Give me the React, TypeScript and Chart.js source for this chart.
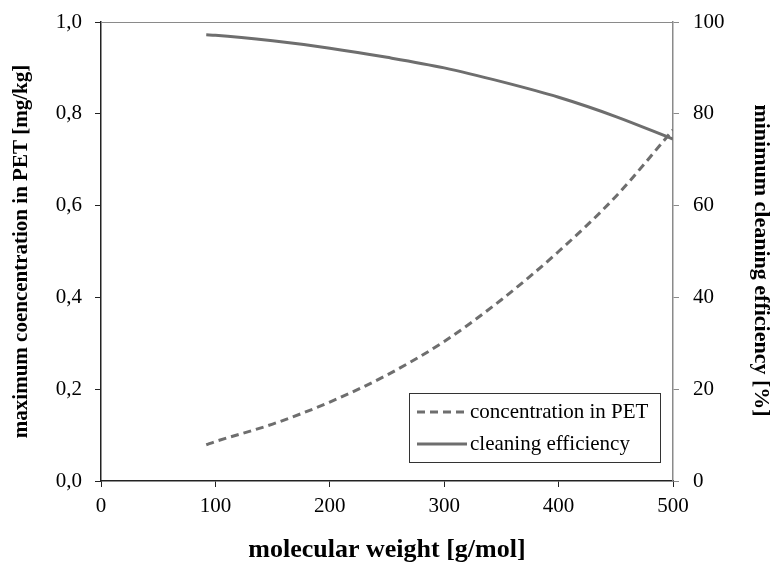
import React, { useEffect, useRef } from "react";
import { Chart, registerables } from "chart.js";
Chart.register(...registerables);

const molecularWeight = [92, 100, 150, 200, 250, 300, 350, 400, 450, 500];
const concentration = [0.079, 0.086, 0.124, 0.172, 0.231, 0.304, 0.395, 0.5, 0.62, 0.765];
const cleaningEfficiency = [97.2, 97.1, 95.9, 94.3, 92.3, 90.0, 87.0, 83.6, 79.4, 74.5];
const seriesLabels = ["concentration in PET", "cleaning efficiency"];
const rightTitle = "minimum cleaning efficiency [%]";

const FONT = "'Liberation Serif', 'Times New Roman', serif";
const LINE = "#6e6e6e";

const frameLegend = {
  id: "frameLegend",
  afterDraw(chart: any) {
    const { ctx, chartArea } = chart;
    ctx.save();
    // top border
    ctx.strokeStyle = "#8a8a8a";
    ctx.lineWidth = 1;
    ctx.beginPath();
    ctx.moveTo(chartArea.left, chartArea.top + 0.5);
    ctx.lineTo(chartArea.right, chartArea.top + 0.5);
    ctx.stroke();
    // right axis title
    ctx.save();
    ctx.translate(chart.width - 12, (chartArea.top + chartArea.bottom) / 2 + 9);
    ctx.rotate(Math.PI / 2);
    ctx.font = `bold 22px ${FONT}`;
    ctx.fillStyle = "#000";
    ctx.textAlign = "center";
    ctx.textBaseline = "middle";
    ctx.fillText(rightTitle, 0, 0);
    ctx.restore();
    // legend box
    const w = 251, h = 69;
    const x = chartArea.right - 13 - w;
    const y = chartArea.bottom - 19 - h;
    ctx.fillStyle = "#ffffff";
    ctx.fillRect(x, y, w, h);
    ctx.strokeStyle = "#333333";
    ctx.lineWidth = 1;
    ctx.strokeRect(Math.round(x) + 0.5, Math.round(y) + 0.5, w, h);
    ctx.font = `21px ${FONT}`;
    ctx.textBaseline = "middle";
    chart.data.datasets.forEach((ds: any, i: number) => {
      const cy = y + 19 + i * 32;
      ctx.strokeStyle = ds.borderColor;
      ctx.lineWidth = 3;
      ctx.setLineDash(ds.borderDash || []);
      ctx.beginPath();
      ctx.moveTo(x + 8, cy);
      ctx.lineTo(x + 58, cy);
      ctx.stroke();
      ctx.setLineDash([]);
      ctx.fillStyle = "#000";
      ctx.fillText(ds.label, x + 61, cy);
    });
    ctx.restore();
  },
};

export default function App() {
  const ref = useRef<HTMLCanvasElement>(null);
  useEffect(() => {
    document.body.style.margin = "0";
    const chart = new Chart(ref.current!, {
      type: "line",
      data: {
        datasets: [
          {
            label: seriesLabels[0],
            data: molecularWeight.map((x, i) => ({ x, y: concentration[i] })),
            borderColor: LINE,
            borderWidth: 3,
            borderDash: [8, 5],
            pointRadius: 0,
            cubicInterpolationMode: "monotone",
            yAxisID: "y",
          },
          {
            label: seriesLabels[1],
            data: molecularWeight.map((x, i) => ({ x, y: cleaningEfficiency[i] })),
            borderColor: LINE,
            borderWidth: 3,
            pointRadius: 0,
            cubicInterpolationMode: "monotone",
            yAxisID: "y1",
          },
        ],
      },
      options: {
        animation: false,
        responsive: false,
        layout: { padding: { top: 22, left: 0, right: 0, bottom: 0 } },
        plugins: { legend: { display: false }, tooltip: { enabled: false } },
        scales: {
          x: {
            type: "linear",
            min: 0,
            max: 500,
            ticks: { stepSize: 100, color: "#000", font: { family: FONT, size: 21 }, padding: 7 },
            grid: { drawOnChartArea: false, tickLength: 6, tickColor: "#222" },
            border: { color: "#222", width: 1.5 },
            title: {
              display: true,
              text: "molecular weight [g/mol]",
              color: "#000",
              font: { family: FONT, size: 26, weight: "bold", lineHeight: 1 },
              padding: { top: 0, bottom: 0 },
            },
            afterFit: (s: any) => { s.height = 82; s.paddingLeft = 0; s.paddingRight = 0; },
          },
          y: {
            position: "left",
            min: 0,
            max: 1,
            ticks: {
              stepSize: 0.2,
              color: "#000",
              font: { family: FONT, size: 21 },
              padding: 13,
              callback: (v: any) => Number(v).toFixed(1).replace(".", ","),
            },
            grid: { drawOnChartArea: false, tickLength: 6, tickColor: "#222" },
            border: { color: "#222", width: 1.5 },
            title: {
              display: true,
              text: "maximum coencentration in PET [mg/kg]",
              color: "#000",
              font: { family: FONT, size: 21, weight: "bold", lineHeight: 1.2 },
              padding: { top: 9, bottom: 0 },
            },
            afterFit: (s: any) => { s.width = 101; s.paddingTop = 0; s.paddingBottom = 0; },
          },
          y1: {
            position: "right",
            min: 0,
            max: 100,
            ticks: { stepSize: 20, color: "#000", font: { family: FONT, size: 21 }, padding: 14 },
            grid: { drawOnChartArea: false, tickLength: 6, tickColor: "#8a8a8a" },
            border: { color: "#8a8a8a", width: 1.5 },
            title: { display: false },
            afterFit: (s: any) => { s.width = 100; s.paddingTop = 0; s.paddingBottom = 0; },
          },
        },
      },
      plugins: [frameLegend],
    });
    return () => chart.destroy();
  }, []);
  return <canvas ref={ref} width={773} height={563} style={{ display: "block" }} />;
}
